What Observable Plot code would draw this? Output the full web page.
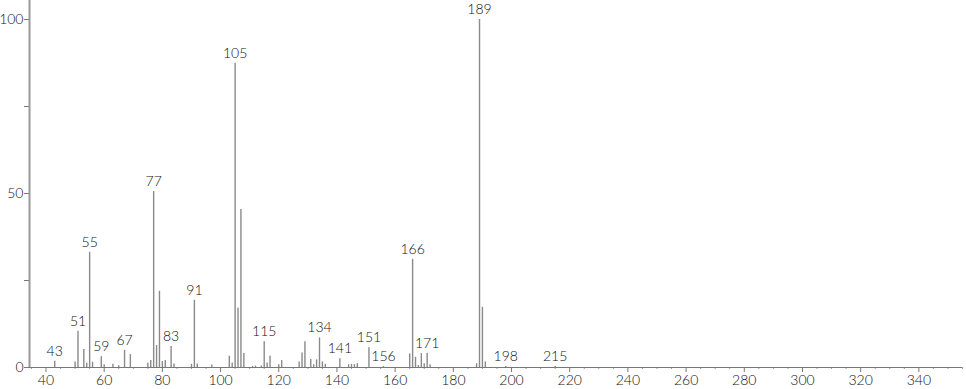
<!DOCTYPE html>
<html>
<head>
<meta charset="utf-8">
<script src="https://cdn.jsdelivr.net/npm/d3@7"></script>
<script src="https://cdn.jsdelivr.net/npm/@observablehq/plot@0.6"></script>
<style>
  html, body { margin: 0; padding: 0; background: #fff; }
  #chart svg { display: block; }
  #chart svg text { font-weight: 300; }
</style>
</head>
<body>
<div id="chart"></div>
<script>
const mz = [43,50,51,53,54,55,56,59,60,63,65,67,69,75,76,77,78,79,80,81,83,84,90,91,92,97,103,104,105,106,107,108,111,112,114,115,116,117,120,121,127,128,129,131,132,133,134,135,136,141,144,145,146,147,151,156,165,166,167,168,169,170,171,172,188,189,190,191,198,215];
const intensity = [1.8,1.6,10.4,5.2,1.2,33.1,1.5,3.1,0.8,0.9,0.5,4.9,3.7,1.2,2.0,50.6,6.3,21.9,1.7,2.0,6.0,1.0,0.9,19.3,1.0,0.7,3.2,1.3,87.4,17.0,45.4,4.0,0.3,0.4,0.4,7.4,1.3,3.2,0.8,2.0,1.6,4.2,7.4,2.3,0.8,2.2,8.5,1.6,0.9,2.5,0.8,0.9,0.8,1.1,5.7,0.3,3.9,31.1,2.9,0.6,4.0,1.1,4.1,0.8,1.1,100,17.3,1.6,0.3,0.3];
const labeledPeaks = [43,51,55,59,67,77,83,91,105,115,134,141,151,156,166,171,189,198,215];
const xMajorTicks = [40,60,80,100,120,140,160,180,200,220,240,260,280,300,320,340];
const yTicks = [0,50,100];
const yMinorTicks = [25,75];

const peaks = mz.map((m, i) => ({mz: m, intensity: intensity[i]}));
const labels = peaks.filter(d => labeledPeaks.includes(d.mz));
const xMin = 34.33, xMax = 355;
const xMinorTicks = d3.range(35, 356, 5).filter(v => !xMajorTicks.includes(v));

const font = "Lato, 'DejaVu Sans', sans-serif";
const chart = Plot.plot({
  width: 966,
  height: 389,
  marginLeft: 29,
  marginRight: 4,
  marginTop: 0,
  marginBottom: 22,
  style: {fontFamily: font, fontSize: "14px", color: "#111", background: "#fff"},
  x: {domain: [xMin, xMax]},
  y: {domain: [0, 105.46]},
  marks: [
    Plot.axisY({ticks: yTicks, tickSize: 5, tickPadding: 1, label: null, stroke: "#777", fontSize: 14}),
    Plot.axisY({ticks: yMinorTicks, tickSize: 5, text: null, label: null, stroke: "#777"}),
    Plot.axisX({ticks: xMajorTicks, tickSize: 5, tickPadding: 3, label: null, stroke: "#777", fontSize: 14}),
    Plot.axisX({ticks: xMinorTicks, tickSize: 2, text: null, label: null, stroke: "#999"}),
    Plot.ruleX(peaks, {x: "mz", y1: 0, y2: "intensity", stroke: "#8a8a8a", strokeWidth: 1.4}),
    Plot.ruleY([0], {x1: xMin, x2: xMax, stroke: "#777", strokeWidth: 1}),
    Plot.ruleX([xMin], {y1: 0, y2: 105.46, stroke: "#999", strokeWidth: 2}),
    Plot.text(labels, {x: "mz", y: "intensity", text: d => String(d.mz), dy: -10, fontSize: 14, fill: "#111", fontFamily: font})
  ]
});
document.getElementById("chart").appendChild(chart);
</script>
</body>
</html>
